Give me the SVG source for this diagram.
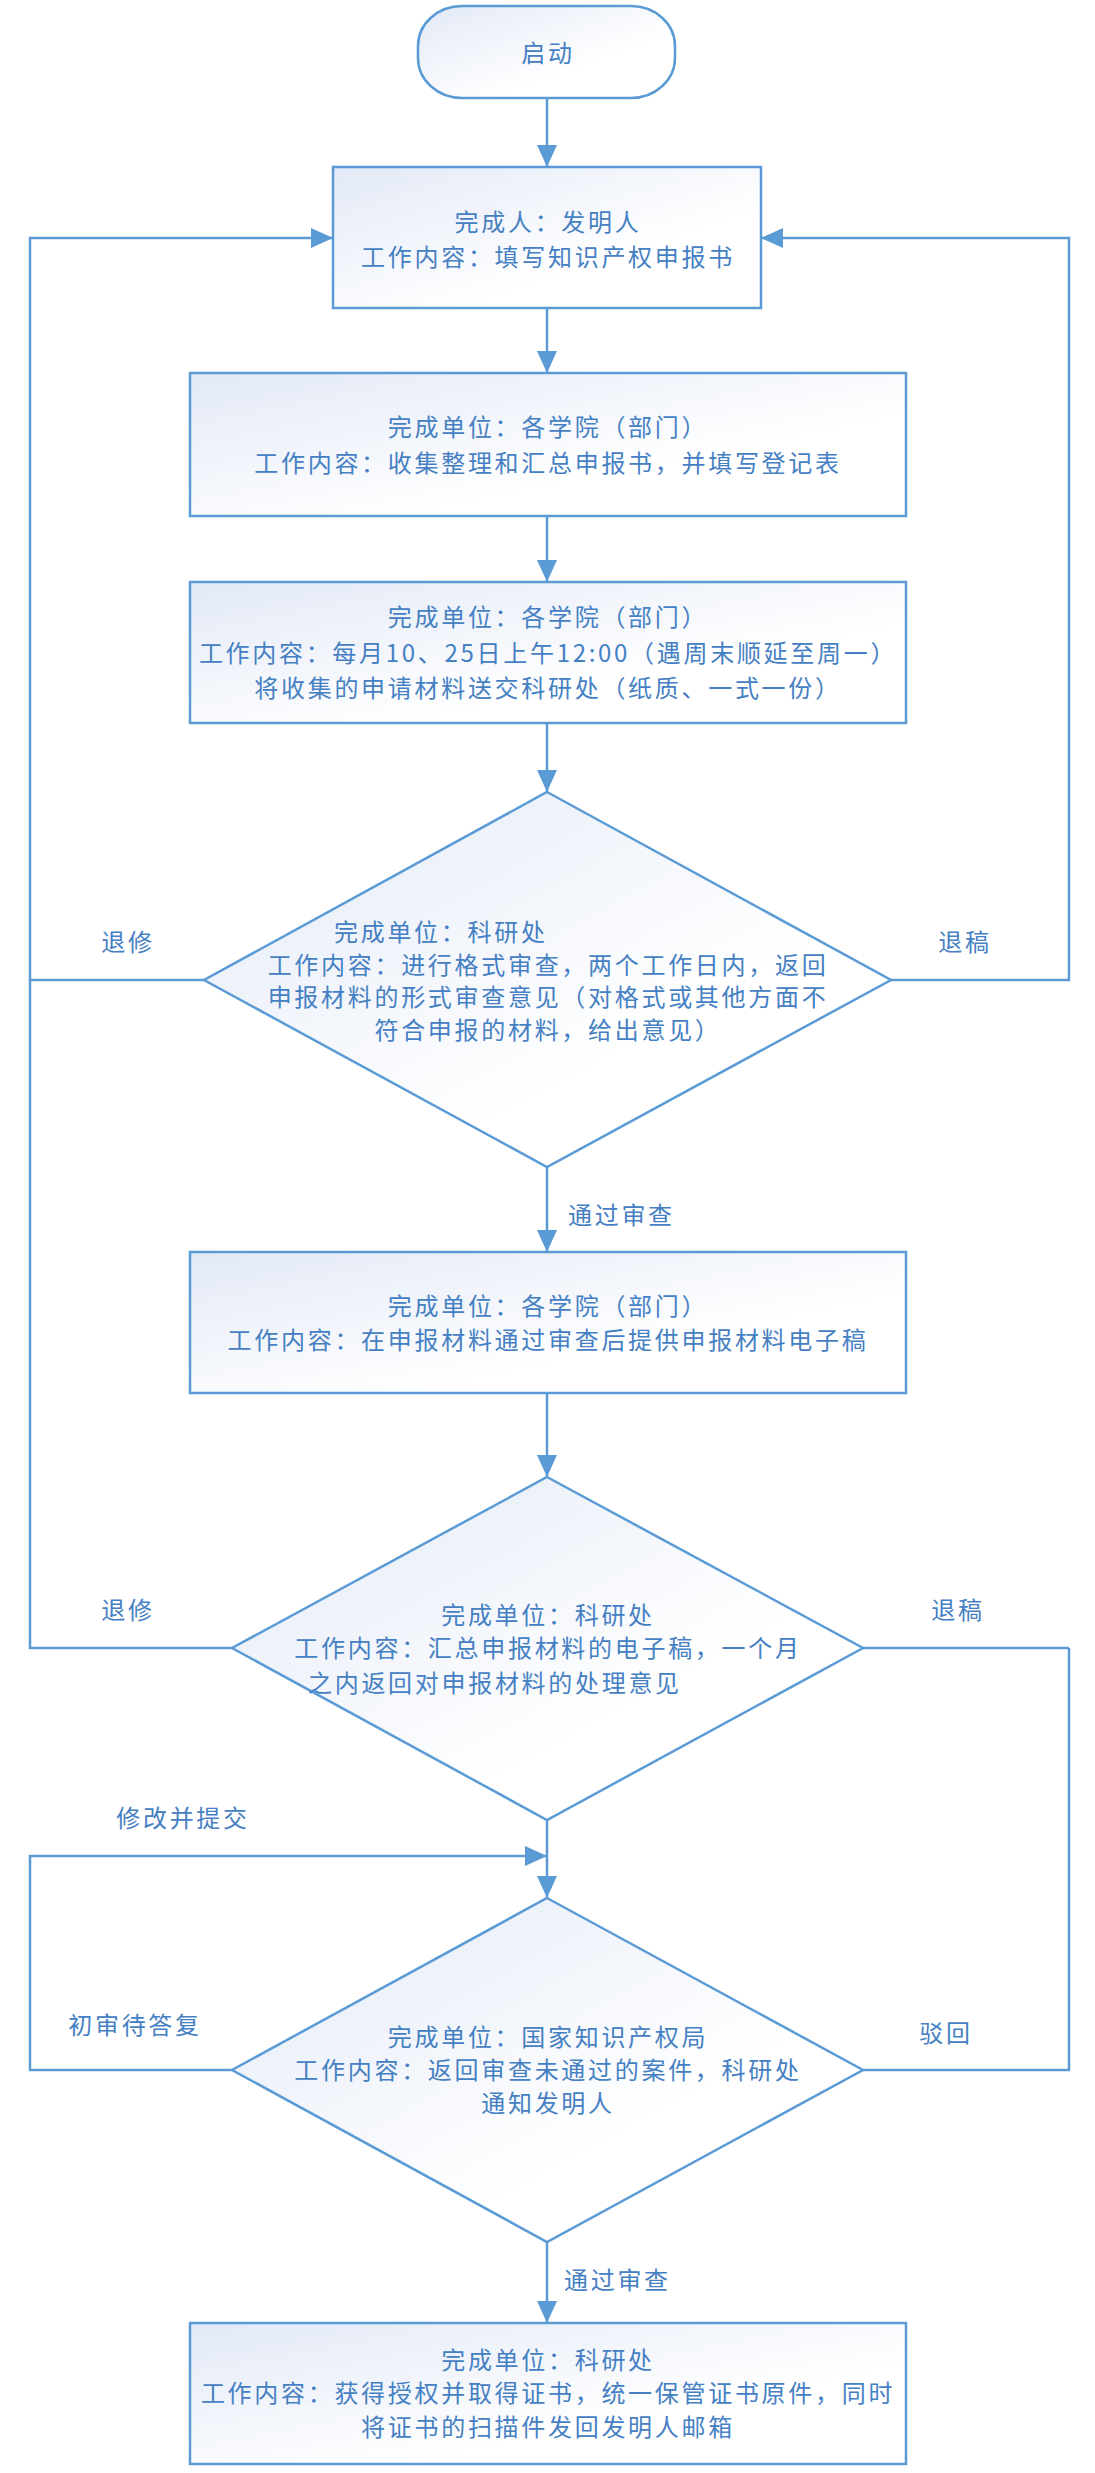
<svg xmlns="http://www.w3.org/2000/svg" width="1095" height="2473" viewBox="0 0 1095 2473">
<defs>
<linearGradient id="g" x1="0" y1="0" x2="1" y2="1">
<stop offset="0" stop-color="#e2e9f6"/>
<stop offset="0.65" stop-color="#ffffff"/>
<stop offset="1" stop-color="#ffffff"/>
</linearGradient>
<marker id="arr" markerUnits="userSpaceOnUse" markerWidth="22" markerHeight="20" refX="22" refY="10" orient="auto">
<path d="M0,0 L22,10 L0,20 z" fill="#5b9bd5"/>
</marker>
<style>
.node{fill:url(#g);stroke:#5b9bd5;stroke-width:2.5}
.conn{fill:none;stroke:#5b9bd5;stroke-width:2.5}
.arrow{marker-end:url(#arr)}
.t{font-family:"Noto Sans CJK SC","Noto Sans CJK JP",sans-serif;font-size:24px;fill:#4580c3;letter-spacing:2.7px}
.c{text-anchor:middle}
</style>
</defs>
<rect width="1095" height="2473" fill="#ffffff"/>

<g id="connectors">
<path class="conn arrow" d="M547,98 V167"/>
<path class="conn arrow" d="M547,308 V373"/>
<path class="conn arrow" d="M547,516 V582"/>
<path class="conn arrow" d="M547,723 V792"/>
<path class="conn arrow" d="M547,1167 V1252"/>
<path class="conn arrow" d="M547,1393 V1477"/>
<path class="conn arrow" d="M547,1820 V1898"/>
<path class="conn arrow" d="M547,2242 V2323"/>
<path class="conn arrow" d="M204,980 H30 V238 H333"/>
<path class="conn" d="M232,1648 H30 V980"/>
<path class="conn arrow" d="M891,980 H1069 V238 H761"/>
<path class="conn" d="M863,1648 H1069"/>
<path class="conn" d="M863,2070 H1069 V1648"/>
<path class="conn arrow" d="M232,2070 H30 V1856 H547"/>
<text class="t c" x="128" y="951">退修</text>
<text class="t c" x="965" y="951">退稿</text>
<text class="t" x="568" y="1224">通过审查</text>
<text class="t c" x="128" y="1619">退修</text>
<text class="t c" x="958" y="1619">退稿</text>
<text class="t c" x="183" y="1827">修改并提交</text>
<text class="t c" x="135" y="2034">初审待答复</text>
<text class="t c" x="946" y="2042">驳回</text>
<text class="t" x="564" y="2289">通过审查</text>
</g>

<g id="start">
<rect class="node" x="418" y="6" width="257" height="92" rx="44" ry="40"/>
<text class="t c" x="548" y="62">启动</text>
</g>

<g id="box1">
<rect class="node" x="333" y="167" width="428" height="141"/>
<text class="t c" x="548" y="231">完成人：发明人</text>
<text class="t c" x="548" y="266">工作内容：填写知识产权申报书</text>
</g>

<g id="box2">
<rect class="node" x="190" y="373" width="716" height="143"/>
<text class="t c" x="548" y="436">完成单位：各学院（部门）</text>
<text class="t c" x="548" y="472">工作内容：收集整理和汇总申报书，并填写登记表</text>
</g>

<g id="box3">
<rect class="node" x="190" y="582" width="716" height="141"/>
<text class="t c" x="548" y="626">完成单位：各学院（部门）</text>
<text class="t c" x="548" y="662">工作内容：每月10、25日上午12:00（遇周末顺延至周一）</text>
<text class="t c" x="548" y="697">将收集的申请材料送交科研处（纸质、一式一份）</text>
</g>

<g id="decision1">
<polygon class="node" points="547,792 891,980 547,1167 204,980"/>
<text class="t" x="334" y="941">完成单位：科研处</text>
<text class="t c" x="548" y="974">工作内容：进行格式审查，两个工作日内，返回</text>
<text class="t c" x="548" y="1006">申报材料的形式审查意见（对格式或其他方面不</text>
<text class="t c" x="548" y="1039">符合申报的材料，给出意见）</text>
</g>

<g id="box4">
<rect class="node" x="190" y="1252" width="716" height="141"/>
<text class="t c" x="548" y="1315">完成单位：各学院（部门）</text>
<text class="t c" x="548" y="1349">工作内容：在申报材料通过审查后提供申报材料电子稿</text>
</g>

<g id="decision2">
<polygon class="node" points="547,1477 863,1648 547,1820 232,1648"/>
<text class="t c" x="548" y="1624">完成单位：科研处</text>
<text class="t c" x="548" y="1657">工作内容：汇总申报材料的电子稿，一个月</text>
<text class="t" x="308" y="1692">之内返回对申报材料的处理意见</text>
</g>

<g id="decision3">
<polygon class="node" points="547,1898 863,2070 547,2242 232,2070"/>
<text class="t c" x="548" y="2046">完成单位：国家知识产权局</text>
<text class="t c" x="548" y="2079">工作内容：返回审查未通过的案件，科研处</text>
<text class="t c" x="548" y="2112">通知发明人</text>
</g>

<g id="box5">
<rect class="node" x="190" y="2323" width="716" height="141"/>
<text class="t c" x="548" y="2369">完成单位：科研处</text>
<text class="t c" x="548" y="2402">工作内容：获得授权并取得证书，统一保管证书原件，同时</text>
<text class="t c" x="548" y="2436">将证书的扫描件发回发明人邮箱</text>
</g>
</svg>
